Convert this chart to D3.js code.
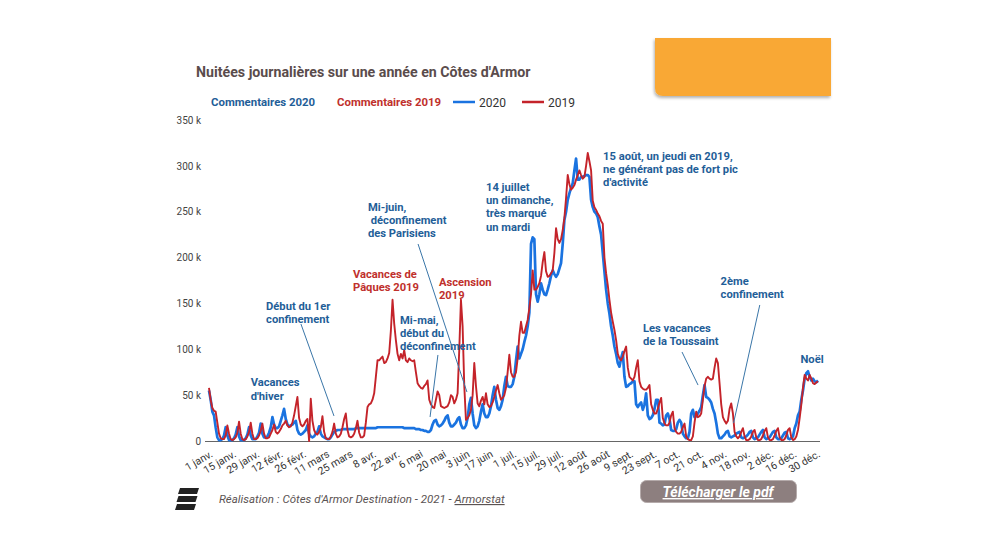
<!DOCTYPE html>
<html><head><meta charset="utf-8">
<script src="https://cdn.jsdelivr.net/npm/d3@7"></script>
<style>
body{margin:0;background:#fff;}
svg{display:block;font-family:Roboto,"Noto Sans",sans-serif;}
</style></head>
<body><svg id="chart" width="1000" height="550"></svg>
<script>
// ---------- DATA (nuitées, en milliers, un point par jour à partir du 1er janvier) ----------
const startDay = "2020-01-01";
const nuitees2020 = [
55,45,32,28,15,4,1, 1,2,6,15,6,1,1, 1,3,7,15,5,1,1, 1,3,7,15,6,2,2,
2,5,9,19,8,4,4, 5,9,15,26,18,14,14, 16,22,28,35,24,18,16, 17,18,20,22,12,8,7,
8,10,12,17,8,5,4, 5,8,10,16,8,5,4, 3,2,2,4,7,10,11, 12,12,12,13,13,13,13,
13,13,13,13,14,14,14, 14,14,14,14,14,14,14, 14,14,14,15,15,15,15, 15,15,15,15,15,15,15,
15,15,15,15,15,14,14, 14,14,14,14,14,13,13, 13,12,12,11,11,10,10, 12,18,22,23,18,16,17,
19,22,26,28,20,16,16, 18,20,24,26,18,14,14, 17,25,40,47,30,17,14, 16,22,32,40,30,26,26,
30,38,50,59,45,36,34, 38,45,60,70,60,59,59, 62,70,88,103,90,95,100, 108,115,125,140,215,222,220,
160,152,160,172,165,160,159, 165,172,180,186,182,179,182, 188,194,215,241,250,263,270, 276,281,295,308,285,285,288,
288,289,290,290,288,263,255, 250,248,244,234,225,205,185, 165,150,139,125,115,103,95, 85,81,90,97,70,59,60,
62,63,65,65,40,37,40, 42,34,40,52,28,24,25, 28,35,45,45,20,19,17, 18,28,30,24,12,11,11,
13,20,23,20,8,5,3, 3,10,30,34,26,27,30, 33,37,50,61,48,47,45, 42,35,30,20,8,3,3,
5,7,10,11,5,4,5, 6,8,9,10,4,3,4, 5,7,10,11,4,2,3, 4,7,10,12,4,2,3,
4,7,10,11,4,2,2, 3,6,9,10,3,2,3, 5,14,19,28,32,45,55, 68,74,76,70,66,68,65,
64,66
];
const nuitees2019 = [
58,45,36,33,32,20,8, 3,2,2,6,17,8,2, 1,2,4,9,21,8,2, 1,2,5,10,20,8,2,
2,3,6,11,19,8,3, 3,4,8,12,18,10,8, 10,13,17,19,22,17,15, 16,20,28,38,48,25,18,
16,18,22,24,0,46,22, 12,8,7,10,15,27,10, 3,2,2,5,10,19,8, 4,5,8,15,24,30,12,
5,4,5,8,14,22,9, 4,4,6,20,37,40,41, 45,52,70,88,88,90,92, 85,86,90,96,120,154,128,
110,95,88,95,90,99,88, 86,90,88,87,88,75,63, 60,58,57,60,62,66,45, 40,37,36,45,54,50,38,
37,36,37,38,42,50,48, 41,45,52,100,154,125,60, 23,25,28,34,50,85,60, 41,38,44,48,40,52,40,
37,38,42,48,55,61,52, 45,47,50,58,75,94,75, 70,70,75,90,115,130,118, 118,125,132,145,160,186,165,
165,168,172,180,195,206,185, 179,180,183,186,205,232,220, 216,220,230,243,265,290,280, 274,276,279,285,290,295,290,
286,288,300,314,305,295,262, 255,252,248,245,240,237,200, 183,170,154,140,130,121,110, 95,90,88,92,98,103,80,
70,68,66,70,80,88,65, 59,57,56,56,58,61,40, 34,30,30,35,42,47,25, 19,17,17,20,28,32,14,
10,8,8,10,15,19,5, 2,1,1,5,20,32,26, 27,30,45,60,68,70,68, 67,68,80,90,85,63,40,
26,22,19,22,35,41,30, 10,5,3,5,10,14,5, 1,1,2,5,10,12,4, 1,1,2,6,11,14,4,
1,1,2,6,11,14,4, 1,1,2,6,12,14,4, 1,2,5,12,25,40,58, 72,68,66,72,68,63,62,
64,65
];
const tickLabels = ["1 janv.","15 janv.","29 janv.","12 févr.","26 févr.","11 mars","25 mars","8 avr.","22 avr.","6 mai","20 mai","3 juin","17 juin","1 juil.","15 juil.","29 juil.","12 août","26 août","9 sept.","23 sept.","7 oct.","21 oct.","4 nov.","18 nov.","2 déc.","16 déc.","30 déc."];
const yTicks = [0,50,100,150,200,250,300,350];
const seriesNames = ["2020","2019"];

// Annotations: ancrées en (jour de l'année, valeur en milliers)
const annotations = [
  {lines:["Vacances","d'hiver"], day:25, val:59.5, c:"b"},
  {lines:["Début du 1er","confinement"], day:34.2, val:142.8, c:"b", from:[55.1,127.6], to:[74.9,27.3]},
  {lines:["Vacances de","Pâques 2019"], day:86.3, val:177.7, c:"r"},
  {lines:["Ascension","2019"], day:137.8, val:169.5, c:"r"},
  {lines:["Mi-mai,","début du","déconfinement"], day:114.5, val:127.6, c:"b", from:[137.2,93.8], to:[132.5,26.2]},
  {lines:["Mi-juin,"," déconfinement","des Parisiens"], day:95.3, val:251.3, c:"b", from:[125.3,214.8], to:[154.6,53.4]},
  {lines:["14 juillet","un dimanche,","très marqué","un mardi"], day:166, val:272.6, c:"b"},
  {lines:["15 août, un jeudi en 2019,","ne générant pas de fort pic","d'activité"], day:236.2, val:306.4, c:"b"},
  {lines:["Les vacances","de la Toussaint"], day:260.1, val:118.8, c:"b", from:[283.5,97], to:[293.1,61]},
  {lines:["2ème","confinement"], day:306.6, val:170, c:"b", from:[330.1,148.3], to:[314.4,19.6]},
  {lines:["Noël"], day:354.5, val:85, c:"b"}
];

// ---------- DRAWING ----------
const svg = d3.select("#chart");
const C = {blue:"#1a73e0", red:"#c4232a", tBlue:"#1f5e98", tRed:"#c0302c", title:"#5a4c4c"};
svg.append("rect").attr("width",1000).attr("height",550).attr("fill","#fff");

const t0 = d3.timeParse("%Y-%m-%d")(startDay);
const dayDate = i => d3.timeDay.offset(t0, i);
const x = d3.scaleTime().domain([dayDate(0), dayDate(365)]).range([209, 818]);
const y = d3.scaleLinear().domain([0, 350]).range([441, 120]);
const xd = dd => x(dayDate(0)) + (x(dayDate(1)) - x(dayDate(0))) * dd;

// orange box with shadow
const defs = svg.append("defs");
const f = defs.append("filter").attr("id","sh").attr("x","-10%").attr("y","-10%").attr("width","130%").attr("height","140%");
f.append("feDropShadow").attr("dx",-1).attr("dy",2).attr("stdDeviation",1.5).attr("flood-color","#000").attr("flood-opacity",0.3);
svg.append("path").attr("d","M655,38 H831 V96 H663 Q655,96 655,88 Z").attr("fill","#f9a834").attr("filter","url(#sh)");

// title
svg.append("text").attr("x",196).attr("y",77).text("Nuitées journalières sur une année en Côtes d'Armor")
  .attr("font-size",14.2).attr("font-weight",700).attr("fill",C.title);

// legend
const lg = svg.append("g").attr("font-size",11.4);
lg.append("text").attr("x",211).attr("y",106).text("Commentaires 2020").attr("font-weight",700).attr("fill",C.tBlue);
lg.append("text").attr("x",337).attr("y",106).text("Commentaires 2019").attr("font-weight",700).attr("fill",C.tRed);
[[seriesNames[0],C.blue,453],[seriesNames[1],C.red,522]].forEach(([n,c,lx])=>{
  lg.append("line").attr("x1",lx).attr("x2",lx+22).attr("y1",102).attr("y2",102).attr("stroke",c).attr("stroke-width",2.5);
  lg.append("text").attr("x",lx+26).attr("y",107).text(n).attr("fill","#333").attr("font-size",12);
});

// y axis labels
const yAx = svg.append("g").attr("transform","translate(203,0)")
  .call(d3.axisLeft(y).tickValues(yTicks).tickSize(0).tickPadding(2).tickFormat(d=> d===0 ? "0" : d+" k"));
yAx.select(".domain").remove();
yAx.selectAll("text").attr("font-size",10).attr("fill","#444").attr("font-family","Roboto,sans-serif");

// x axis
const tickDates = tickLabels.map((l,i)=>dayDate(14*i));
const xAx = svg.append("g").attr("transform","translate(0,441)")
  .call(d3.axisBottom(x).tickValues(tickDates).tickSize(0).tickFormat((d,i)=>tickLabels[i]));
xAx.select(".domain").attr("d","M205,0.5H820").attr("stroke","#666").attr("stroke-width",1.2);
xAx.selectAll("text").attr("font-size",10.5).attr("fill","#333").attr("font-family","Roboto,sans-serif")
  .attr("text-anchor","end").attr("dy",0).attr("y",0)
  .attr("transform","translate(4,15) rotate(-30)");

// lines
const line = d3.line().x((d,i)=>x(dayDate(i))).y(d=>y(d));
svg.append("path").datum(nuitees2020).attr("d",line).attr("fill","none")
  .attr("stroke",C.blue).attr("stroke-width",2.7).attr("stroke-linejoin","round");
svg.append("path").datum(nuitees2019).attr("d",line).attr("fill","none")
  .attr("stroke",C.red).attr("stroke-width",1.9).attr("stroke-linejoin","round");

// annotations
const ag = svg.append("g").attr("font-size",11.2).attr("font-weight",700);
annotations.forEach(a=>{
  const col = a.c==="b" ? C.tBlue : C.tRed;
  const t = ag.append("text").attr("x",xd(a.day)).attr("y",y(a.val)).attr("fill",col);
  a.lines.forEach((l,i)=>t.append("tspan").attr("x",xd(a.day)).attr("dy",i?13.2:0).text(l).attr("xml:space","preserve"));
  if(a.from){
    svg.append("line").attr("x1",xd(a.from[0])).attr("y1",y(a.from[1])).attr("x2",xd(a.to[0])).attr("y2",y(a.to[1]))
      .attr("stroke","#3a76a8").attr("stroke-width",1);
  }
});

// footer
const ic = svg.append("g").attr("fill","#222");
[[488,0],[496,-1.5],[504,-3]].forEach(([yy,dx])=>{
  ic.append("path").attr("d",`M${180+dx},${yy} H${199+dx} L${197+dx},${yy+6} H${178+dx} Z`);
});
const ft = svg.append("text").attr("x",219).attr("y",503).attr("font-size",11.5).attr("font-style","italic").attr("fill","#5b5353");
ft.append("tspan").text("Réalisation : Côtes d'Armor Destination - 2021 - ");
ft.append("tspan").text("Armorstat").attr("text-decoration","underline");
svg.append("rect").attr("x",640.5).attr("y",480.5).attr("width",156).attr("height",22).attr("rx",6)
  .attr("fill","#8d7f7f").attr("stroke","#b5abab").attr("stroke-width",1);
svg.append("text").attr("x",718).attr("y",497).attr("text-anchor","middle").attr("font-size",14)
  .attr("font-weight",700).attr("font-style","italic").attr("fill","#fff").attr("text-decoration","underline")
  .text("Télécharger le pdf");
</script></body></html>
